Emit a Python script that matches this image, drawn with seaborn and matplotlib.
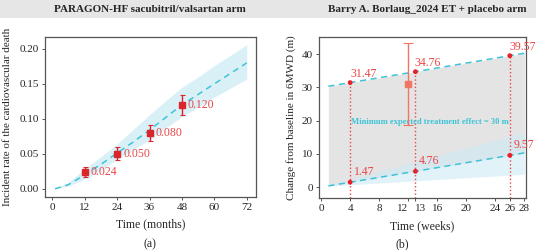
#####----- Two-panel figure: PARAGON-HF incidence curve and 6MWD change over time

#####----- IMPORTS
import numpy as np
import pandas as pd
import seaborn as sns
import matplotlib.pyplot as plt
from matplotlib.patches import Rectangle

#####----- DATA
# panel (a): predicted incidence curve with its band, and observed points
months = [1, 6, 12, 18, 24, 30, 36, 42, 48, 54, 60, 66, 72]
incid_pred = [0.000, 0.006, 0.020, 0.035, 0.051, 0.067, 0.084, 0.102, 0.120, 0.135, 0.150, 0.165, 0.180]
incid_hi = [0.0005, 0.009, 0.029, 0.046, 0.064, 0.085, 0.106, 0.126, 0.145, 0.160, 0.176, 0.191, 0.206]
incid_lo = [0.000, 0.004, 0.014, 0.027, 0.042, 0.056, 0.070, 0.087, 0.103, 0.117, 0.131, 0.144, 0.157]
obs_months = [12, 24, 36, 48]
obs_rate = [0.024, 0.050, 0.080, 0.120]
obs_err_lo = [0.0065, 0.009, 0.0115, 0.014]
obs_err_hi = [0.007, 0.0095, 0.011, 0.014]
month_ticks = [0, 12, 24, 36, 48, 60, 72]

# panel (b): placebo line, placebo + 30 m line, placebo band, trial point
weeks = [1, 4, 13, 26, 28]
placebo = [0.37, 1.47, 4.76, 9.57, 10.31]
target = [30.37, 31.47, 34.76, 39.57, 40.31]
placebo_hi = [0.45, 2.3, 7.7, 15.3, 16.5]
placebo_lo = [0.3, 0.7, 1.9, 3.6, 3.9]
mark_weeks = [4, 13, 26]
mark_placebo = [1.47, 4.76, 9.57]
mark_target = [31.47, 34.76, 39.57]
trial_week = [12]
trial_val = [31.0]
trial_err_lo = [12.3]
trial_err_hi = [12.3]
week_ticks = [0, 4, 8, 12, 13, 16, 20, 24, 26, 28]

#####----- STYLE
sns.set_style("ticks")
plt.rcParams['font.family'] = ['Liberation Serif', 'DejaVu Serif']
plt.rcParams['font.size'] = 8
cyan = '#3fc3d6'
band = '#cdebf5'
red = '#d9262b'
lab_red = '#ea4545'

fig = plt.figure(figsize=(5.36, 2.5), dpi=100)
fig.add_artist(Rectangle((0, 1 - 18 / 250), 1, 18 / 250, transform=fig.transFigure,
                         facecolor='#e6e6e6', edgecolor='none', zorder=0))

ax1 = fig.add_axes([0.084, 0.214, 0.394, 0.638])
ax2 = fig.add_axes([0.595, 0.209, 0.386, 0.643])

#####----- PANEL A
df_a = pd.DataFrame({'month': months, 'rate': incid_pred})
ax1.fill_between(months, incid_lo, incid_hi, color=band, alpha=0.75, linewidth=0)
sns.lineplot(data=df_a, x='month', y='rate', ax=ax1, color=cyan, linestyle=(0, (4, 3)), linewidth=1.1)
ax1.errorbar(obs_months, obs_rate, yerr=[obs_err_lo, obs_err_hi], fmt='s', color=red,
             markersize=4, elinewidth=1, capsize=1.8, capthick=0.8)
for m, r in zip(obs_months, obs_rate):
    ax1.text(m + 2.2, r, f"{r:.3f}", color=lab_red, fontsize=8.5, va='center', ha='left')

ax1.set_xlim(-2.7, 75.5)
ax1.set_ylim(-0.011, 0.217)
ax1.set_xticks(month_ticks)
ax1.set_yticks([0.0, 0.05, 0.10, 0.15, 0.20])
ax1.set_yticklabels(['0.00', '0.05', '0.10', '0.15', '0.20'])
ax1.set_xlabel('Time (months)', fontsize=8.5, labelpad=5)
ax1.set_ylabel('Incident rate of the cardiovascular death', fontsize=8, labelpad=5)

#####----- PANEL B
df_b = pd.DataFrame({'week': weeks, 'placebo': placebo, 'target': target})
ax2.fill_between(weeks, placebo, target, color='#e4e4e4', linewidth=0)
ax2.fill_between(weeks, placebo_lo, placebo_hi, color=band, alpha=0.6, linewidth=0)
ax2.vlines(mark_weeks, -3.2, mark_target, colors=lab_red, linestyles=':', linewidth=1)
sns.lineplot(data=df_b, x='week', y='target', ax=ax2, color=cyan, linestyle=(0, (4, 3)), linewidth=1.1)
sns.lineplot(data=df_b, x='week', y='placebo', ax=ax2, color=cyan, linestyle=(0, (4, 3)), linewidth=1.1)
sns.scatterplot(x=mark_weeks + mark_weeks, y=mark_placebo + mark_target, ax=ax2,
                color='#e8202a', s=12, edgecolor='none', zorder=5)
ax2.errorbar(trial_week, trial_val, yerr=[trial_err_lo, trial_err_hi], fmt='s', color='#f07565',
             markersize=5, elinewidth=1, capsize=3.5, capthick=0.8, zorder=4)

for w, v in zip(mark_weeks, mark_target):
    ax2.text(w - 0.1 if w != 4 else w + 0.05, v + 0.9, f"{v:.2f}", color=lab_red,
             fontsize=8.5, ha='left', va='bottom')
for w, v in zip(mark_weeks, mark_placebo):
    ax2.text(w + 0.5, v + 1.4, f"{v:.2f}", color=lab_red, fontsize=8.5, ha='left', va='bottom')
ax2.text(15, 19.5, 'Minimum expected treatment effect = 30 m', color=cyan, fontsize=6.2,
         fontweight='bold', ha='center', va='center')

ax2.set_xlim(-0.3, 28.2)
ax2.set_ylim(-3.2, 45.2)
ax2.set_xticks(week_ticks)
ax2.set_xticklabels(['0', '4', '8', '12', '13', '16', '20', '24', '26', '28'])
ax2.set_yticks([0, 10, 20, 30, 40])
ax2.set_xlabel('Time (weeks)', fontsize=8.5, labelpad=5)
ax2.set_ylabel('Change from baseline in 6MWD (m)', fontsize=8, labelpad=4)

for ax in (ax1, ax2):
    for s in ax.spines.values():
        s.set_color('#555555')
        s.set_linewidth(0.9)
    ax.tick_params(length=2.5, width=0.7, color='#555555', labelsize=8, pad=2)

# 12 and 13 sit side by side, as in the reference
for lbl in ax2.get_xticklabels():
    if lbl.get_text() == '12':
        lbl.set_horizontalalignment('right')
    if lbl.get_text() == '13':
        lbl.set_horizontalalignment('left')

#####----- TITLES / PANEL LETTERS
fig.text(150 / 536, 1 - 9 / 250, 'PARAGON-HF sacubitril/valsartan arm', fontsize=8,
         fontweight='bold', ha='center', va='center')
fig.text(427 / 536, 1 - 9 / 250, 'Barry A. Borlaug_2024 ET + placebo arm', fontsize=8,
         fontweight='bold', ha='center', va='center')
fig.text(150 / 536, 1 - 244 / 250, '(a)', fontsize=8.5, ha='center', va='center')
fig.text(402 / 536, 1 - 244 / 250, '(b)', fontsize=8.5, ha='center', va='center')

plt.savefig('out.png', dpi=100)
